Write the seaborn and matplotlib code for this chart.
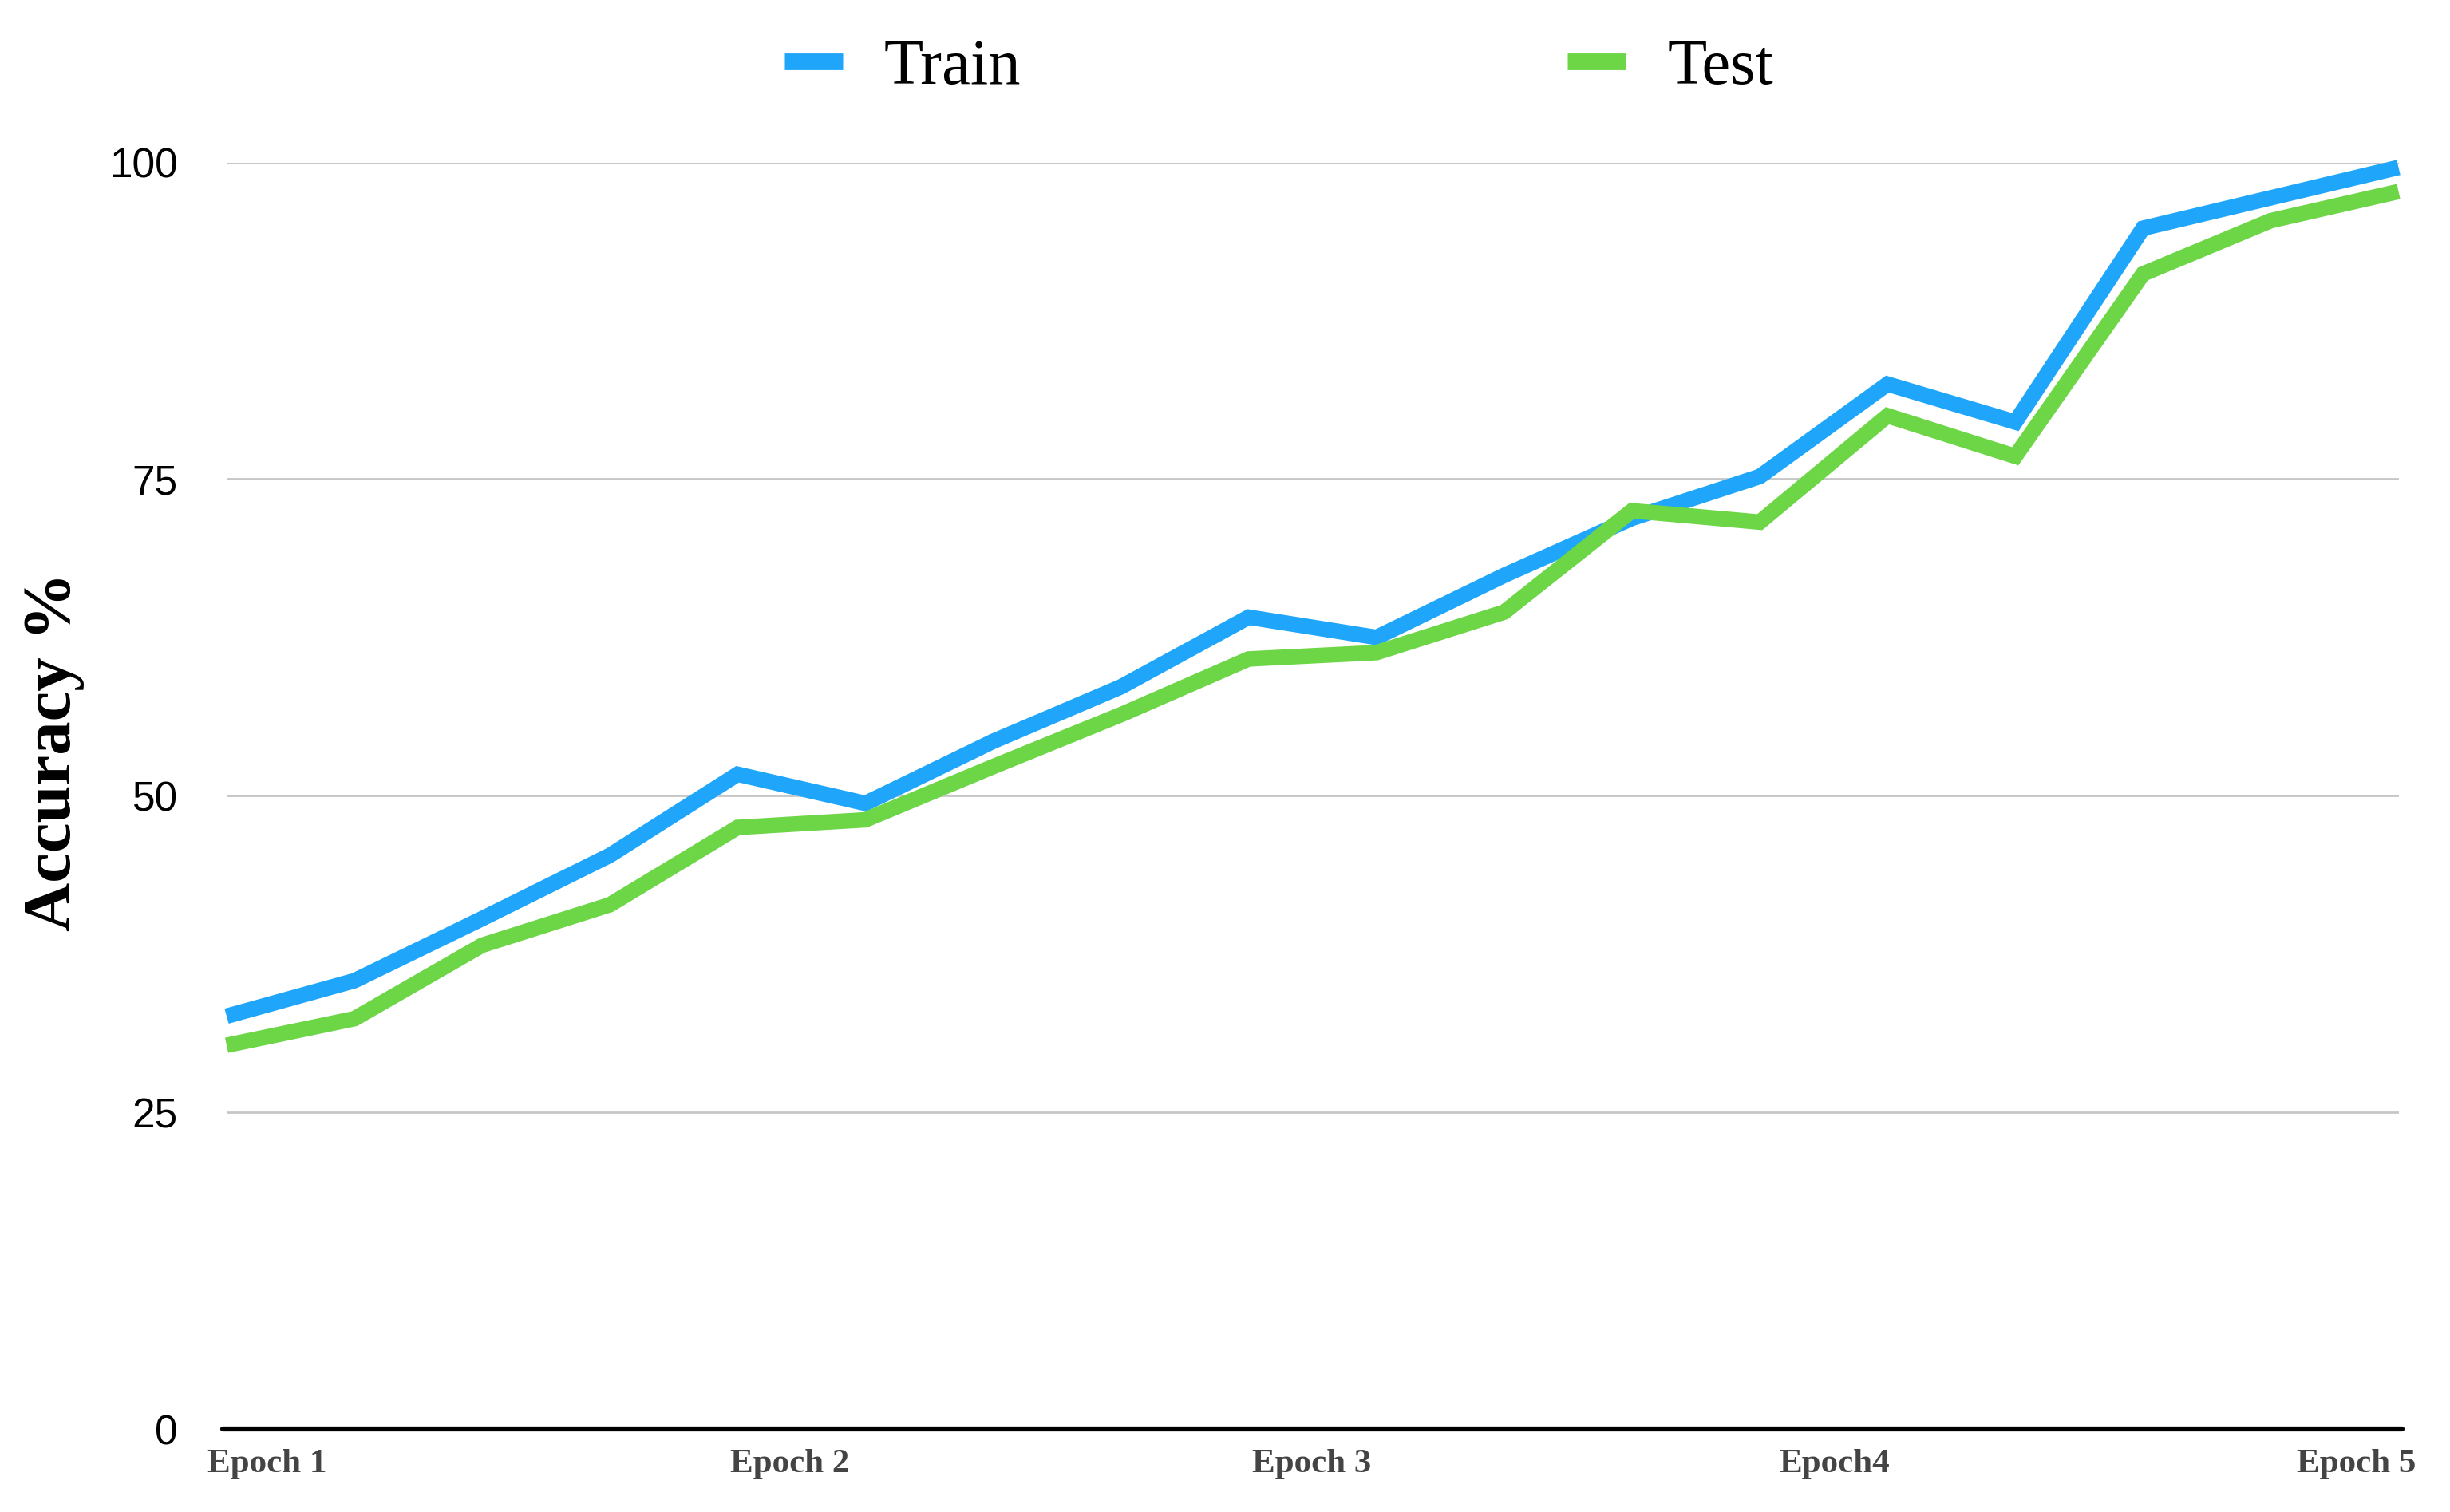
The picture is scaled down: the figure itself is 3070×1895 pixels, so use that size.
import numpy as np
import pandas as pd
import seaborn as sns
import matplotlib
matplotlib.use("Agg")
import matplotlib.pyplot as plt

# ===============================
# DATA
# ===============================
train_acc = [32.6, 35.4, 40.3, 45.3, 51.7, 49.4, 54.3, 58.6, 64.1, 62.5,
             67.4, 71.9, 75.2, 82.5, 79.5, 94.8, 97.2, 99.6]
test_acc = [30.3, 32.4, 38.2, 41.4, 47.5, 48.1, 52.3, 56.4, 60.8, 61.3,
            64.5, 72.5, 71.6, 80.0, 76.8, 91.2, 95.4, 97.7]
epoch_labels = ["Epoch 1", "Epoch 2", "Epoch 3", "Epoch4", "Epoch 5"]
y_ticks = [0, 25, 50, 75, 100]

steps = np.arange(len(train_acc))
df = pd.DataFrame({
    "step": np.concatenate([steps, steps]),
    "acc": train_acc + test_acc,
    "set": ["Train"] * len(train_acc) + ["Test"] * len(test_acc),
})

# ===============================
# STYLE
# ===============================
sns.set_style("white")
plt.rcParams["font.family"] = ["Liberation Serif", "DejaVu Serif"]
plt.rcParams["text.color"] = "black"
plt.rcParams["ytick.color"] = "black"

BLUE = "#1fa6fb"
GREEN = "#6dd646"

fig = plt.figure(figsize=(30.7, 18.95), dpi=100)
ax = fig.add_axes([0.0925, 0.0548, 0.979 - 0.0925, 0.8926 - 0.0548])

sns.lineplot(data=df, x="step", y="acc", hue="set", palette=[BLUE, GREEN],
             linewidth=14, ax=ax, clip_on=False, sort=False,
             solid_joinstyle="miter", solid_capstyle="butt")

ax.set_xlim(0, len(train_acc) - 1)
ax.set_ylim(0, 100)

# grid + baseline
ax.set_yticks(y_ticks)
ax.yaxis.grid(True, color="#c6c6c6", linewidth=2)
ax.set_axisbelow(True)
for s in ax.spines.values():
    s.set_visible(False)
ax.plot([-0.03, len(train_acc) - 1 + 0.03], [0, 0], color="black", lw=4.5,
        clip_on=False, zorder=3)

ax.tick_params(axis="y", length=0, pad=44, labelsize=37, labelcolor="black")
for t in ax.get_yticklabels():
    t.set_fontfamily(["Liberation Sans", "DejaVu Sans"])

# x labels spread across the axis
ax.set_xticks(np.linspace(0.32, 16.67, len(epoch_labels)))
ax.set_xticklabels(epoch_labels, fontsize=31, fontweight="bold", color="#444444")
ax.tick_params(axis="x", length=0, pad=18)

ax.set_xlabel("")
ax.set_ylabel("Accuracy %", fontsize=61, fontweight="bold", color="black")
ax.yaxis.set_label_coords(-0.0655, 0.535)

# legend
handles, labels = ax.get_legend_handles_labels()
ax.get_legend().remove()
leg = fig.legend(handles, labels, loc="center", bbox_to_anchor=(0.522, 0.955),
                 ncol=2, frameon=False, fontsize=58, handlelength=0.9,
                 handletextpad=0.65, columnspacing=8.5, labelcolor="black")
for h in leg.get_lines():
    h.set_linewidth(15)
    h.set_solid_capstyle("butt")

fig.savefig("out.png", dpi=100, facecolor="white")
